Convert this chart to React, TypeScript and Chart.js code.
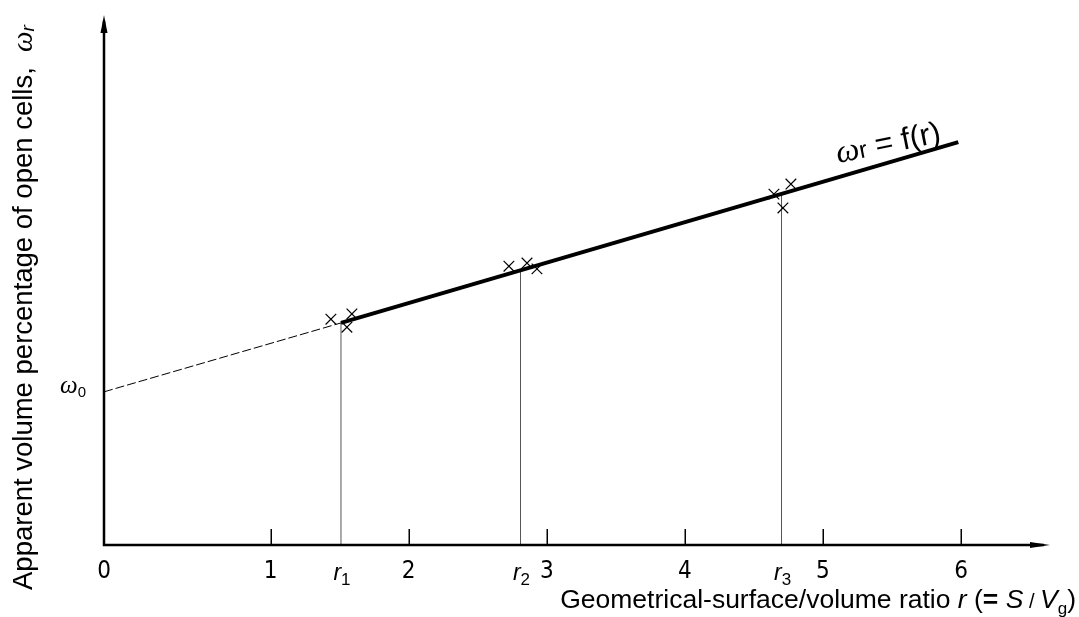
import React, { useEffect, useRef } from 'react';
import { Chart, registerables } from 'chart.js';

Chart.register(...registerables);

// ---- data ----
const xOrigin = -0.206; // where the axes cross (labelled "0")
const xEnd = 6.644;
const yMin = 0;
const yMax = 100;
const tickValues = [xOrigin, 1, 2, 3, 4, 5, 6];
const tickLabels = ['0', '1', '2', '3', '4', '5', '6'];
const markValues = [1, 2, 3, 4, 5, 6];
const rValues = [1.51, 2.81, 4.7];
const rSubs = ['1', '2', '3'];
const rLineTops = [41.9, 51.8, 66.2];
const sampleX = [1.437, 1.589, 1.553, 2.726, 2.857, 2.929, 4.768, 4.645, 4.71];
const sampleY = [42.6, 43.6, 41.1, 52.6, 53.2, 52.1, 68.1, 66.2, 63.6];
const fitX = [1.51, 5.98];
const fitY = [41.9, 76.0];
const extX = [xOrigin, 1.51];
const extY = [28.9, 41.9];
const omega0 = 28.9;

const SANS = "'Liberation Sans', Arial, sans-serif";
const NARROW = "'Liberation Sans Narrow', 'DejaVu Sans Condensed', 'Liberation Sans', sans-serif";
const SERIF = "'Liberation Serif', 'DejaVu Serif', serif";

type Seg = { t: string; f: string; dy?: number };

function drawRich(ctx: CanvasRenderingContext2D, segs: Seg[], x: number, y: number, align: 'left' | 'center' | 'right') {
  const widths = segs.map((s) => {
    ctx.font = s.f;
    return ctx.measureText(s.t).width;
  });
  const total = widths.reduce((a, b) => a + b, 0);
  let cx = align === 'left' ? x : align === 'center' ? x - total / 2 : x - total;
  ctx.textAlign = 'left';
  ctx.textBaseline = 'alphabetic';
  segs.forEach((s, i) => {
    ctx.font = s.f;
    ctx.fillText(s.t, cx, y + (s.dy || 0));
    cx += widths[i];
  });
}

const decorPlugin = {
  id: 'decor',
  afterDraw(chart: any) {
    const ctx: CanvasRenderingContext2D = chart.ctx;
    const xs = chart.scales.x;
    const ys = chart.scales.y;
    const { left, right, top, bottom } = chart.chartArea;
    ctx.save();
    ctx.fillStyle = '#000';
    ctx.strokeStyle = '#000';

    // axes
    ctx.lineWidth = 2.5;
    ctx.beginPath();
    ctx.moveTo(left, bottom);
    ctx.lineTo(left, top + 6);
    ctx.moveTo(left - 1.25, bottom);
    ctx.lineTo(right - 6, bottom);
    ctx.stroke();
    // arrow heads
    ctx.beginPath();
    ctx.moveTo(left, top);
    ctx.lineTo(left - 3.5, top + 18);
    ctx.lineTo(left + 3.5, top + 18);
    ctx.closePath();
    ctx.fill();
    ctx.beginPath();
    ctx.moveTo(right, bottom);
    ctx.lineTo(right - 20, bottom - 3);
    ctx.lineTo(right - 20, bottom + 3);
    ctx.closePath();
    ctx.fill();

    // tick marks
    ctx.lineWidth = 1.5;
    ctx.beginPath();
    markValues.forEach((v) => {
      const px = Math.round(xs.getPixelForValue(v)) + 0.25;
      ctx.moveTo(px, bottom);
      ctx.lineTo(px, bottom - 16);
    });
    ctx.stroke();

    // r labels
    rValues.forEach((v, i) => {
      const px = xs.getPixelForValue(v);
      drawRich(
        ctx,
        [
          { t: 'r', f: `italic 23px ${SANS}` },
          { t: rSubs[i], f: `17px ${SANS}`, dy: 5 },
        ],
        px + 1,
        580,
        'center'
      );
    });

    // omega0 label
    const py0 = ys.getPixelForValue(omega0);
    drawRich(
      ctx,
      [
        { t: 'ω', f: `italic 25px ${SERIF}` },
        { t: '0', f: `15px ${SANS}`, dy: 4 },
      ],
      60,
      py0 + 1,
      'left'
    );

    // curve label (rotated along the line)
    ctx.save();
    ctx.translate(838, 163);
    ctx.rotate(-0.2);
    drawRich(
      ctx,
      [
        { t: 'ω', f: `italic 33px ${SERIF}` },
        { t: 'r', f: `24px ${SANS}`, dy: 0 },
        { t: ' = f(r)', f: `31px ${SANS}` },
      ],
      0,
      0,
      'left'
    );
    ctx.restore();

    // x title
    drawRich(
      ctx,
      [
        { t: 'Geometrical-surface/volume ratio ', f: `26.5px ${SANS}` },
        { t: 'r', f: `italic 26.5px ${SANS}` },
        { t: ' (', f: `26.5px ${SANS}` },
        { t: '=', f: `bold 26.5px ${SANS}` },
        { t: ' ', f: `26.5px ${SANS}` },
        { t: 'S', f: `italic 26.5px ${SANS}` },
        { t: ' / ', f: `20px ${SANS}` },
        { t: 'V', f: `italic 26.5px ${SANS}` },
        { t: 'g', f: `17px ${SANS}`, dy: 6 },
        { t: ')', f: `26.5px ${SANS}` },
      ],
      1076,
      608,
      'right'
    );

    // y title (rotated)
    ctx.save();
    ctx.translate(32, 590);
    ctx.rotate(-Math.PI / 2);
    drawRich(
      ctx,
      [
        { t: 'Apparent volume percentage of open cells,  ', f: `27.5px ${SANS}` },
        { t: 'ω', f: `italic 29px ${SERIF}` },
        { t: 'r', f: `italic 19px ${SANS}`, dy: 2 },
      ],
      0,
      0,
      'left'
    );
    ctx.restore();

    ctx.restore();
  },
};

export default function App() {
  const ref = useRef<HTMLCanvasElement | null>(null);

  useEffect(() => {
    if (!ref.current) return;
    const pts = (xa: number[], ya: number[]) => xa.map((x, i) => ({ x, y: ya[i] }));
    const verticals = rValues.map((v, i) => ({
      type: 'scatter' as const,
      data: [
        { x: v, y: yMin },
        { x: v, y: rLineTops[i] },
      ],
      showLine: true,
      borderColor: '#555',
      borderWidth: 1,
      pointRadius: 0,
      order: 5,
    }));
    const chart = new Chart(ref.current, {
      type: 'scatter',
      data: {
        datasets: [
          ...verticals,
          {
            data: pts(extX, extY),
            showLine: true,
            borderColor: '#000',
            borderWidth: 1,
            borderDash: [9, 3],
            pointRadius: 0,
            order: 4,
          },
          {
            data: pts(fitX, fitY),
            showLine: true,
            borderColor: '#000',
            borderWidth: 4,
            borderCapStyle: 'butt',
            pointRadius: 0,
            order: 3,
          },
          {
            data: pts(sampleX, sampleY),
            showLine: false,
            pointStyle: 'crossRot',
            pointRadius: 7.5,
            pointBorderWidth: 1.2,
            pointBorderColor: '#000',
            borderColor: '#000',
            order: 1,
          },
        ] as any,
      },
      options: {
        responsive: false,
        animation: false,
        events: [],
        layout: { padding: { left: 104, right: 29, top: 15, bottom: 32 } },
        plugins: { legend: { display: false }, tooltip: { enabled: false }, title: { display: false } },
        scales: {
          x: {
            type: 'linear',
            min: xOrigin,
            max: xEnd,
            grid: { display: false, drawTicks: false },
            border: { display: false },
            afterBuildTicks: (s: any) => {
              s.ticks = tickValues.map((v) => ({ value: v }));
            },
            afterFit: (s: any) => {
              s.height = 40;
            },
            ticks: {
              autoSkip: false,
              maxRotation: 0,
              padding: 12,
              color: '#000',
              font: { family: NARROW, size: 24 },
              callback: (_v: any, i: number) => tickLabels[i],
            },
          },
          y: {
            type: 'linear',
            min: yMin,
            max: yMax,
            display: false,
          },
        },
      },
      plugins: [decorPlugin],
    });
    return () => chart.destroy();
  }, []);

  return (
    <div style={{ position: 'fixed', left: 0, top: 0, width: 1079, height: 617, background: '#fff' }}>
      <canvas ref={ref} width={1079} height={617} style={{ display: 'block' }} />
    </div>
  );
}
